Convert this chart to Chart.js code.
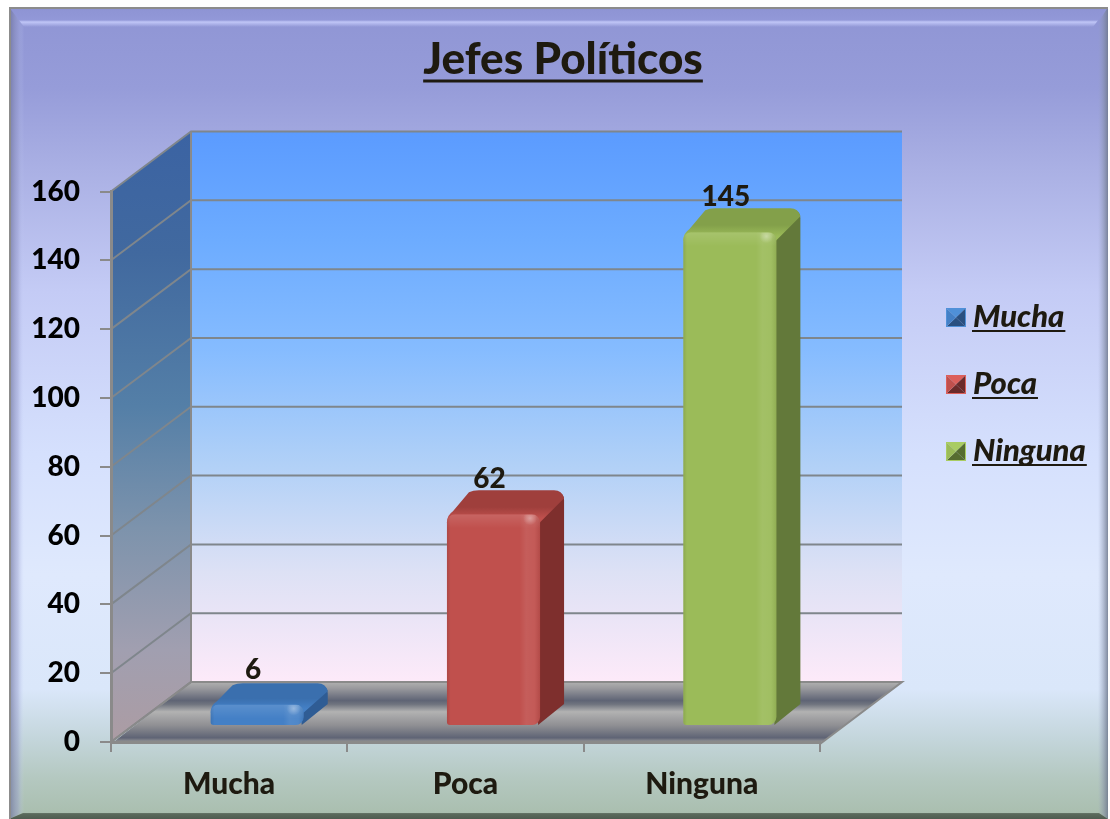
<!DOCTYPE html>
<html><head><meta charset="utf-8">
<style>html,body{margin:0;padding:0;background:#fff}canvas{display:block}</style>
<script src="https://cdn.jsdelivr.net/npm/chart.js@4/dist/chart.umd.min.js"></script>
</head><body>
<div style="width:1110px;height:819px"><canvas id="c" width="1110" height="819"></canvas></div>
<script>
const titleText = 'Jefes Políticos';
const categories = ['Mucha', 'Poca', 'Ninguna'];
const values = [6, 62, 145];
const frontColors = ['#4480c6', '#c0504d', '#9bbb59'];
const topColors = ['#3a6fae', '#9f3f3c', '#83a04a'];
const sideColors = ['#2f5c94', '#7e2f2d', '#63793a'];
const lightColors = ['#4f90d8', '#dc5f5b', '#a9cc62'];
const darkColors = ['#2a5080', '#6a2a2a', '#566c30'];
const FONT = 'Lato, Carlito, sans-serif';
const INK = '#1e1a10';
const DX = 80, DXR = 82, DY = 60, BDX = 24, BDY = 24, BAR_SHIFT = 28;
const CORNERS = { topLeft: 8, topRight: 8, bottomLeft: 3, bottomRight: 8 };

function stops(g, list){ list.forEach(s => g.addColorStop(s[0], s[1])); return g; }

const scenePlugin = {
  id: 'scene',
  beforeDraw(chart){
    const c = chart.ctx, W = 1110, H = 819;
    c.save();
    c.fillStyle = '#fff'; c.fillRect(0,0,W,H);
    const L=9,T=7,R=1108,B=819;
    const bg = c.createLinearGradient(0,T,0,B);
    stops(bg,[[0,'#8f95d4'],[0.1,'#969cd9'],[0.2,'#aab0e4'],[0.35,'#c4cbf5'],[0.55,'#d5e0fd'],[0.7,'#dfe9fd'],[0.84,'#dae7fa'],[0.9,'#c4d6dc'],[0.95,'#b4c8c0'],[1,'#a8bdac']]);
    c.fillStyle = bg; c.fillRect(L,T,R-L,B-T);
    // bevel edges
    const top = c.createLinearGradient(0,T,0,T+20);
    stops(top,[[0,'#8d93d3'],[0.65,'#9298d8'],[0.75,'rgba(192,198,247,1)'],[1,'rgba(192,198,247,0)']]);
    c.fillStyle = top;
    c.beginPath(); c.moveTo(L,T); c.lineTo(R,T); c.lineTo(R-15,T+20); c.lineTo(L+15,T+20); c.closePath(); c.fill();
    const left = c.createLinearGradient(L,0,L+15,0);
    stops(left,[[0,'rgba(105,110,150,.75)'],[0.6,'rgba(150,155,205,.45)'],[1,'rgba(200,210,250,0)']]);
    c.fillStyle = left;
    c.beginPath(); c.moveTo(L,T); c.lineTo(L+15,T+20); c.lineTo(L+15,B-7); c.lineTo(L,B); c.closePath(); c.fill();
    const right = c.createLinearGradient(R-10,0,R,0);
    stops(right,[[0,'rgba(150,160,190,0)'],[1,'rgba(110,120,140,.85)']]);
    c.fillStyle = right;
    c.beginPath(); c.moveTo(R,T); c.lineTo(R-10,T+16); c.lineTo(R-10,B-7); c.lineTo(R,B); c.closePath(); c.fill();
    const bot = c.createLinearGradient(0,B-7,0,B);
    stops(bot,[[0,'#75877a'],[0.3,'#5a6a5c'],[1,'#4f5c50']]);
    c.fillStyle = bot;
    c.beginPath(); c.moveTo(L+14,B-6); c.lineTo(R-9,B-6); c.lineTo(R,B); c.lineTo(L,B); c.closePath(); c.fill();
    c.fillStyle = '#8c8c8c'; c.fillRect(L,T,R-L,2); c.fillRect(L,T,2,B-T);

    // 3D walls taken from the scales
    const y = chart.scales.y, area = chart.chartArea;
    const yTop = y.getPixelForValue(y.max), yBot = y.getPixelForValue(y.min);
    const x0 = area.left, x1 = area.right;
    const wall = c.createLinearGradient(0,yTop-DY,0,yBot-DY);
    stops(wall,[[0,'#5b9bff'],[0.2,'#6dacff'],[0.4,'#86bcff'],[0.6,'#b0d0f7'],[0.8,'#dde1f5'],[1,'#fdeaf9']]);
    c.fillStyle = wall; c.fillRect(x0+DX,yTop-DY,x1+DXR-x0-DX,yBot-yTop);
    const side = c.createLinearGradient(0,yTop-DY,0,yBot);
    stops(side,[[0,'#3b63a3'],[0.2,'#41699f'],[0.45,'#547fa7'],[0.65,'#7d93ac'],[0.85,'#a19fb0'],[1,'#ac9ca3']]);
    c.fillStyle = side;
    c.beginPath(); c.moveTo(x0,yTop); c.lineTo(x0+DX,yTop-DY); c.lineTo(x0+DX,yBot-DY); c.lineTo(x0,yBot); c.closePath(); c.fill();
    const floor = c.createLinearGradient(0,yBot-DY,0,yBot+2);
    stops(floor,[[0,'#b0b0b0'],[0.1,'#9a9a9e'],[0.3,'#5f6475'],[0.36,'#70747f'],[0.48,'#b2b2b2'],[0.7,'#8f8f93'],[0.9,'#5f6475'],[0.97,'#9a9a9a'],[1,'#9a9a9a']]);
    c.fillStyle = floor;
    c.beginPath(); c.moveTo(x0,yBot+2); c.lineTo(x0+DX,yBot-DY); c.lineTo(x1+DXR,yBot-DY); c.lineTo(x1,yBot+2); c.closePath(); c.fill();

    c.strokeStyle = '#7f868c'; c.lineWidth = 2;
    y.ticks.forEach(t => {
      const p = y.getPixelForValue(t.value);
      c.beginPath(); c.moveTo(x0,p); c.lineTo(x0+DX,p-DY); c.lineTo(x1+DXR,p-DY); c.stroke();
    });
    c.strokeStyle = '#8a8a8a'; c.lineWidth = 2;
    c.beginPath(); c.moveTo(x0+DX,yTop-DY); c.lineTo(x0+DX,yBot-DY); c.lineTo(x1+DXR,yBot-DY); c.lineTo(x1,yBot+2); c.stroke();
    c.beginPath(); c.moveTo(x0+DX,yBot-DY); c.lineTo(x0,yBot); c.stroke();
    c.restore();
  },
  beforeDatasetsDraw(chart){
    const c = chart.ctx;
    c.save();
    c.translate(BAR_SHIFT,0);
    chart.getDatasetMeta(0).data.forEach((bar,i) => {
      const l = bar.x-bar.width/2, r = bar.x+bar.width/2, t = bar.y, b = bar.base;
      const dyTop = Math.min(BDY,(b-t)*1.05);
      // right side
      c.fillStyle = sideColors[i];
      c.beginPath();
      c.moveTo(r-4,t);
      c.lineTo(r+BDX-8,t-dyTop+2);
      c.quadraticCurveTo(r+BDX,t-dyTop+2,r+BDX,t-dyTop+10);
      c.lineTo(r+BDX,b-BDY+3);
      c.lineTo(r-2,b);
      c.closePath(); c.fill();
      // top
      const g = c.createLinearGradient(0,t-dyTop,0,t+4);
      stops(g,[[0,topColors[i]],[0.6,topColors[i]],[1,frontColors[i]]]);
      c.fillStyle = g;
      c.beginPath();
      c.moveTo(l,t+8);
      c.quadraticCurveTo(l,t+1,l+6,t-3);
      c.lineTo(l+BDX-2,t-dyTop+2);
      c.quadraticCurveTo(l+BDX+2,t-dyTop,l+BDX+8,t-dyTop);
      c.lineTo(r+BDX-10,t-dyTop);
      c.quadraticCurveTo(r+BDX-2,t-dyTop,r+BDX,t-dyTop+8);
      c.lineTo(r,t+8);
      c.closePath(); c.fill();
    });
  },
  afterDatasetsDraw(chart){
    const c = chart.ctx;
    chart.getDatasetMeta(0).data.forEach((bar,i) => {
      const w = bar.width, l = bar.x-w/2, r = bar.x+w/2, t = bar.y, b = bar.base;
      c.save();
      c.beginPath();
      c.roundRect(l,t,w,b-t,[8,8,8,3]);
      c.clip();
      const g = c.createLinearGradient(l,0,r,0);
      stops(g,[[0,'rgba(0,0,0,.1)'],[0.04,'rgba(0,0,0,0)'],[0.78,'rgba(255,255,255,0)'],[0.85,'rgba(255,255,255,.08)'],[0.94,'rgba(255,255,255,.06)'],[1,'rgba(0,0,0,.07)']]);
      c.fillStyle = g; c.fillRect(l,t,w,b-t);
      const v = c.createLinearGradient(0,t,0,t+14);
      stops(v,[[0,'rgba(255,255,255,.12)'],[1,'rgba(255,255,255,0)']]);
      c.fillStyle = v; c.fillRect(l,t,w,14);
      const s = c.createRadialGradient(r-10,t+4,0,r-10,t+4,7);
      stops(s,[[0,'rgba(255,255,255,.35)'],[1,'rgba(255,255,255,0)']]);
      c.fillStyle = s; c.fillRect(r-20,t,20,12);
      c.restore();
      // value label
      c.fillStyle = INK;
      c.font = '900 28px ' + FONT;
      c.textAlign = 'center'; c.textBaseline = 'middle';
      c.fillText(String(values[i]), bar.x-4, t-35);
    });
    c.restore();
  },
  afterDraw(chart){
    const c = chart.ctx;
    c.save();
    // title underline
    const tb = chart.titleBlock;
    c.font = Chart.helpers.toFont(tb.options.font).string;
    const tw = c.measureText(titleText).width;
    const cx = (tb.left+tb.right)/2;
    c.fillStyle = INK; c.fillRect(cx-tw/2,79.5,tw,3);
    // legend
    categories.forEach((name,i) => {
      const x = 946, y = 308+i*67, w = 20, h = 19;
      const tri = (pts,col)=>{c.fillStyle=col;c.beginPath();pts.forEach((p,k)=>k?c.lineTo(p[0],p[1]):c.moveTo(p[0],p[1]));c.closePath();c.fill();};
      const m=[x+w/2,y+h/2], a=[x,y], b=[x+w,y], d=[x+w,y+h], e=[x,y+h];
      tri([a,b,m],lightColors[i]); tri([b,d,m],darkColors[i]); tri([d,e,m],darkColors[i]); tri([e,a,m],frontColors[i]);
      c.strokeStyle = lightColors[i]; c.lineWidth=1; c.strokeRect(x+.5,y+.5,w-1,h-1);
      c.font = 'italic 900 31px ' + FONT;
      c.fillStyle = INK; c.textAlign='left'; c.textBaseline='alphabetic';
      c.fillText(name, 973, y+19);
      c.fillRect(972, y+22, c.measureText(name).width+2, 2);
    });
    c.restore();
  }
};

new Chart(document.getElementById('c'), {
  type: 'bar',
  data: { labels: categories, datasets: [{
    data: values, yAxisID: 'y2', backgroundColor: frontColors,
    barPercentage: 0.394, categoryPercentage: 1, borderRadius: CORNERS, borderSkipped: false
  }]},
  plugins: [scenePlugin],
  options: {
    responsive: false, animation: false,
    layout: { padding: { left: 16, top: 0, right: 0, bottom: 0 } },
    plugins: {
      legend: { display: false }, tooltip: { enabled: false },
      title: { display: true, text: titleText, color: INK,
        font: { family: FONT, size: 44, weight: 900, lineHeight: 1 },
        padding: { top: 38, bottom: 109.5 } }
    },
    scales: {
      x: {
        grid: { offset: true, drawOnChartArea: false, drawTicks: true, tickLength: 10, color: '#8a8a8a', lineWidth: 2 },
        border: { color: '#8a8a8a', width: 3 },
        ticks: { color: INK, font: { family: FONT, size: 30, weight: 900 }, padding: 14, maxRotation: 0 },
        afterFit(s){ s.height = 77; }
      },
      y: {
        min: 0, max: 160,
        grid: { drawOnChartArea: false, tickLength: 11, color: '#8a8a8a', lineWidth: 2 },
        border: { color: '#8a8a8a', width: 3 },
        ticks: { stepSize: 20, color: '#000', font: { family: FONT, size: 28, weight: 900 }, padding: 20 },
        afterFit(s){ s.width = 95; }
      },
      y2: {
        position: 'right', min: -5, max: 157,
        grid: { display: false }, border: { display: false },
        ticks: { display: false },
        afterFit(s){ s.width = 290; }
      }
    }
  }
});
</script>
</body></html>
